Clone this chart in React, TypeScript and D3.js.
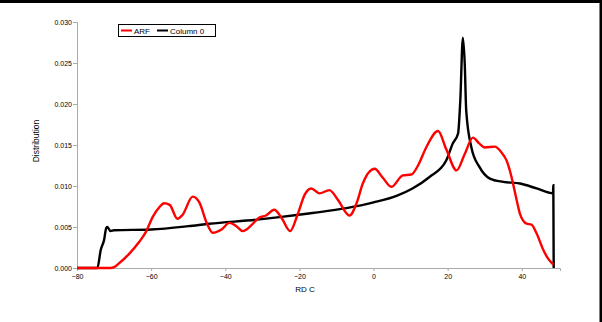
import React, { useEffect, useRef } from 'react'
import * as d3 from 'd3'

// RD C values and distributions
const arfX = [-80, -71, -70, -68.6, -66, -63.2, -61.4, -59.6, -57.8, -56.5, -55, -52.9, -51.5, -48.8, -47, -45, -43.4, -41, -38.9, -37, -35.3, -33, -31, -29, -26.8, -24.8, -22.5, -20.5, -18.5, -16.8, -14.6, -11.9, -9.6, -6.5, -4.5, -2.9, 0.3, 2.5, 4.8, 7.9, 10.2, 12, 14.2, 17.4, 19.6, 22.4, 24.6, 26.8, 28.5, 30, 32.7, 34.5, 35.9, 37, 38.6, 39.5, 41.3, 42.6, 44, 45.8, 47, 48.5]
const arfY = [0, 0, 0.0001, 0.0006, 0.0017, 0.0032, 0.0044, 0.0062, 0.0074, 0.0079, 0.0077, 0.006, 0.0065, 0.0087, 0.008, 0.0055, 0.0043, 0.0047, 0.0055, 0.0051, 0.0045, 0.0052, 0.0061, 0.0064, 0.0071, 0.0061, 0.0045, 0.0065, 0.009, 0.0097, 0.0091, 0.0095, 0.0083, 0.0064, 0.008, 0.0103, 0.0121, 0.011, 0.0099, 0.0113, 0.0114, 0.0125, 0.0147, 0.0167, 0.0145, 0.0119, 0.0139, 0.0159, 0.0152, 0.0147, 0.0148, 0.0141, 0.0131, 0.0115, 0.0083, 0.0066, 0.0054, 0.0053, 0.0042, 0.0022, 0.0012, 0.0004]

const col0X = [-80, -74.5, -73.6, -72.7, -72.1, -71.8, -71, -70, -60, -50, -44.3, -31.4, -25.4, -16.5, -7.3, 0, 6.2, 10.5, 15.1, 19.6, 21.4, 22.8, 23.4, 24.1, 24.6, 25, 26.4, 28.6, 31.4, 35, 39.5, 44, 48.4, 48.5, 48.6]
const col0Y = [0, 0, 0.0022, 0.0034, 0.0049, 0.005, 0.0045, 0.0046, 0.0047, 0.0051, 0.0054, 0.0059, 0.0062, 0.0067, 0.0073, 0.008, 0.0088, 0.0097, 0.0111, 0.0131, 0.0152, 0.0164, 0.0204, 0.0281, 0.0249, 0.0192, 0.0147, 0.0123, 0.0109, 0.0105, 0.0103, 0.0097, 0.0091, 0.0101, 0]

const xTicks = [-80, -60, -40, -20, 0, 20, 40]
const yTicks = [0, 0.005, 0.01, 0.015, 0.02, 0.025, 0.03]

const series = [
  { name: 'ARF', color: '#ff0000', xs: arfX, ys: arfY },
  { name: 'Column 0', color: '#000000', xs: col0X, ys: col0Y },
]

export default function App() {
  const ref = useRef<SVGSVGElement>(null)

  useEffect(() => {
    const svg = d3.select(ref.current)
    svg.selectAll('*').remove()

    const font = 'Liberation Sans, Arial, sans-serif'
    const x = d3.scaleLinear().domain([-80, 50.3]).range([77, 560])
    const y = d3.scaleLinear().domain([0, 0.03]).range([268, 22])

    // frame (only top and right edges show)
    svg.append('line').attr('x1', 0).attr('x2', 602).attr('y1', 1.5).attr('y2', 1.5)
      .style('stroke', '#000').style('stroke-width', 3)
    svg.append('line').attr('x1', 601).attr('x2', 601).attr('y1', 0).attr('y2', 322)
      .style('stroke', '#000').style('stroke-width', 3)

    const xAxis = svg.append('g')
      .attr('transform', 'translate(0,268)')
      .call(d3.axisBottom(x).tickValues(xTicks).tickSize(3).tickFormat(d3.format('d')))
    const yAxis = svg.append('g')
      .attr('transform', 'translate(77,0)')
      .call(d3.axisLeft(y).tickValues(yTicks).tickSize(4).tickFormat(d3.format('.3f')))
    ;[xAxis, yAxis].forEach(a => {
      a.select('.domain').style('stroke', '#aaa')
      a.selectAll('.tick line').style('stroke', '#aaa')
      a.selectAll('.tick text').style('font-family', font).style('font-size', '7px').style('fill', '#000')
    })
    yAxis.selectAll('.tick text').attr('x', -5)

    svg.append('text').attr('x', 305).attr('y', 292).attr('text-anchor', 'middle')
      .style('font-family', font).style('font-size', '8px').text('RD C')
    svg.append('text').attr('transform', 'translate(39,141) rotate(-90)').attr('text-anchor', 'middle')
      .style('font-family', font).style('font-size', '8.5px').text('Distribution')

    const line = d3.line<[number, number]>()
      .x(d => x(d[0]))
      .y(d => y(d[1]))
      .curve(d3.curveMonotoneX)

    // black first, red on top
    series.slice().reverse().forEach(s => {
      svg.append('path')
        .attr('d', line(s.xs.map((v, i) => [v, s.ys[i]] as [number, number])))
        .style('fill', 'none')
        .style('stroke', s.color)
        .style('stroke-width', 2.4)
    })

    // legend
    const lg = svg.append('g')
    lg.append('rect').attr('x', 118.5).attr('y', 24.5).attr('width', 97).attr('height', 12)
      .style('fill', '#fff').style('stroke', '#000').style('stroke-width', 1)
    const offs = [121, 157]
    series.forEach((s, i) => {
      lg.append('line').attr('x1', offs[i]).attr('x2', offs[i] + 11).attr('y1', 30.5).attr('y2', 30.5)
        .style('stroke', s.color).style('stroke-width', 2)
      lg.append('text').attr('x', offs[i] + 13).attr('y', 33.5)
        .style('font-family', font).style('font-size', '8px').text(s.name)
    })
  }, [])

  return (
    <svg ref={ref} width={602} height={322}
      style={{ position: 'absolute', left: 0, top: 0, background: '#fff' }} />
  )
}
